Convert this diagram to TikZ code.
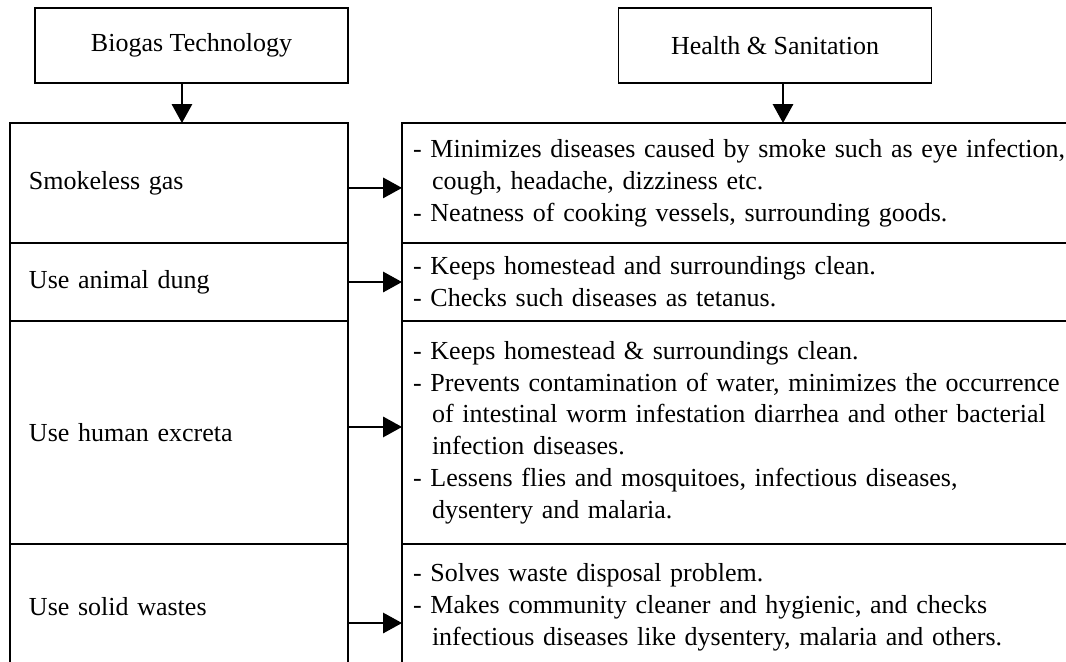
\documentclass[tikz,border=0pt]{standalone}
\usepackage{fontspec}
\setmainfont{Liberation Serif}
\usepackage{tikz}
\usetikzlibrary{arrows.meta}
\tikzstyle{hbox}=[draw, line width=0.6pt, minimum width=140.85pt, minimum height=33.75pt, inner sep=0pt]
\tikzstyle{cell}=[draw, line width=0.6pt, anchor=north west, outer sep=0pt, inner ysep=0pt, align=left]
\tikzstyle{lcell}=[cell, text width=135pt, inner xsep=8.55pt]
\tikzstyle{rcell}=[cell, text width=320pt, inner xsep=5pt]
\tikzstyle{arr}=[line width=0.6pt, -{Triangle[length=8.5pt, width=9.2pt]}]
\newcommand{\indl}{\hspace*{8.5pt}}

\begin{document}
\begin{tikzpicture}[x=0.45pt, y=-0.45pt, font=\fontsize{11.7}{14.3}\selectfont]
        \useasboundingbox (0,0) rectangle (1066,661);
        \clip (0,0) rectangle (1066,661);
        % heads
        \node[hbox] (bio) at (191.5,45.5) {Biogas Technology};
        \node[hbox] (hs)  at (775,45.5)   {Health \& Sanitation};
        % left column
        \node[lcell, minimum height=54pt]    (s1) at (10,123) {Smokeless gas};
        \node[lcell, minimum height=35.1pt]  (s2) at (10,243) {Use animal dung};
        \node[lcell, minimum height=100.35pt](s3) at (10,321) {Use human excreta};
        \node[lcell, minimum height=56.7pt]  (s4) at (10,544) {Use solid wastes};
        % right column
        \node[rcell, minimum height=54pt]    (h1) at (402,123) {- Minimizes diseases caused by smoke such as eye infection,\\
            \indl cough, headache, dizziness etc.\\
            - Neatness of cooking vessels, surrounding goods.};
        \node[rcell, minimum height=35.1pt]  (h2) at (402,243) {- Keeps homestead and surroundings clean.\\
            - Checks such diseases as tetanus.};
        \node[rcell, minimum height=100.35pt](h3) at (402,321) {- Keeps homestead \& surroundings clean.\\
            - Prevents contamination of water, minimizes the occurrence\\
            \indl of intestinal worm infestation diarrhea and other bacterial\\
            \indl infection diseases.\\
            - Lessens flies and mosquitoes, infectious diseases,\\
            \indl dysentery and malaria.};
        \node[rcell, minimum height=56.7pt]  (h4) at (402,544) {- Solves waste disposal problem.\\
            - Makes community cleaner and hygienic, and checks\\
            \indl infectious diseases like dysentery, malaria and others.};
        % arrows
        \draw[arr] ([xshift=-4.3pt]bio.south) -- ([xshift=-4.3pt]bio.south |- s1.north);
        \draw[arr] ([xshift=3.6pt]hs.south) -- ([xshift=3.6pt]hs.south |- h1.north);
        \draw[arr] ([yshift=-2.2pt]s1.east) -- ([yshift=-2.2pt]s1.east -| h1.west);
        \draw[arr] (s2.east) -- (s2.east -| h2.west);
        \draw[arr] ([yshift=2.5pt]s3.east) -- ([yshift=2.5pt]s3.east -| h3.west);
        \draw[arr] ([yshift=-7.2pt]s4.east) -- ([yshift=-7.2pt]s4.east -| h4.west);
    \end{tikzpicture}
\end{document}
